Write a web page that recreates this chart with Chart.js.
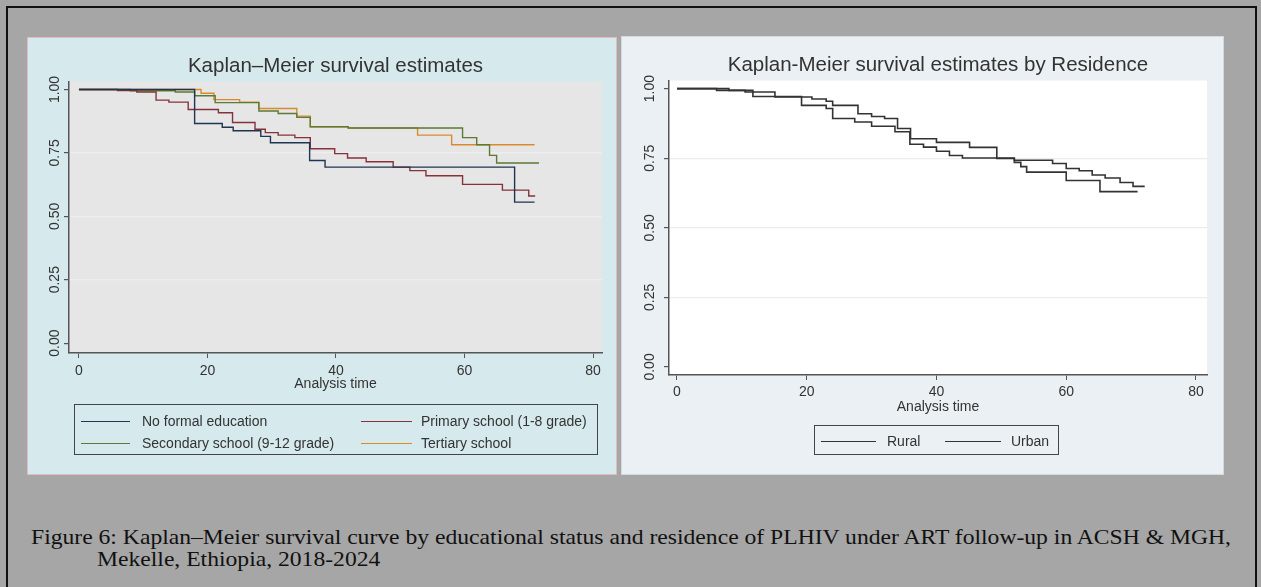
<!DOCTYPE html>
<html lang="en">
<head>
<meta charset="UTF-8">
<title>Kaplan–Meier survival curves</title>
<script src="https://cdn.jsdelivr.net/npm/chart.js@4.4.0/dist/chart.umd.min.js"></script>
<style>
*{box-sizing:border-box;margin:0;padding:0}
body{width:1261px;height:587px;background:#a6a6a6;overflow:hidden;position:relative;font-family:"Liberation Sans",Arial,sans-serif}
#frame{position:absolute;left:6px;top:6px;width:1251px;height:640px;border:2px solid #111}
.panel{position:absolute}
#pL{left:27px;top:37px;width:590px;height:438px;background:#d6e9ec;border:1px solid #e2bcc2}
#pR{left:621px;top:36px;width:603px;height:439px;background:#eaf0f3;border:1px solid #d3d9dc}
.panel canvas{position:absolute;left:0;top:0}
.lg{position:absolute;border:1px solid #444;font-size:14px;color:#333}
.lg .it{position:absolute;white-space:nowrap;line-height:16px}
.lg .ln{position:absolute;height:0;border-top:1.5px solid #333}
#cap{position:absolute;left:31px;top:526px;font-family:"Liberation Serif","Times New Roman",serif;font-size:21px;line-height:22px;color:#111;white-space:nowrap;transform-origin:0 0}
</style>
</head>
<body>
<div id="frame"></div>
<div class="panel" id="pL"><canvas id="cL"></canvas><div class="lg" id="lgL"></div></div>
<div class="panel" id="pR"><canvas id="cR"></canvas><div class="lg" id="lgR"></div></div>
<div id="cap"><span id="cap1">Figure 6: Kaplan–Meier survival curve by educational status and residence of PLHIV under ART follow-up in ACSH &amp; MGH,</span><br><span id="cap2">Mekelle, Ethiopia, 2018-2024</span></div>

<script>
// axis ticks
const xTicks = [0, 20, 40, 60, 80];
const yTicks = [0, 0.25, 0.5, 0.75, 1];

// left: by educational status (time in months, survival prob.)
const eduLabels = ["No formal education", "Primary school (1-8 grade)", "Secondary school (9-12 grade)", "Tertiary school"];
const noFormalT = [0, 18, 22.3, 24, 28.3, 29.8, 35.9, 38.3, 67.8, 70.9];
const noFormalS = [1, 0.866, 0.851, 0.837, 0.815, 0.79, 0.72, 0.694, 0.556, 0.556];
const primaryT = [0, 6, 9, 12, 14, 17, 21.7, 23.9, 27.4, 29, 31, 33.6, 36, 39.8, 41.8, 44.7, 48.9, 51.5, 54, 59.7, 65.9, 70, 71];
const primaryS = [1, 0.996, 0.99, 0.958, 0.95, 0.921, 0.908, 0.87, 0.843, 0.83, 0.82, 0.81, 0.766, 0.747, 0.73, 0.715, 0.694, 0.68, 0.66, 0.626, 0.603, 0.58, 0.58];
const secondaryT = [0, 8, 15, 18, 21.2, 28, 31, 33.9, 36, 41.9, 59.7, 61.9, 63.9, 65, 71.6];
const secondaryS = [1, 0.995, 0.99, 0.975, 0.948, 0.915, 0.905, 0.89, 0.853, 0.848, 0.81, 0.782, 0.74, 0.71, 0.71];
const tertiaryT = [0, 19, 21, 25, 28, 33.9, 36, 41.9, 52.7, 58, 70.9];
const tertiaryS = [1, 0.985, 0.96, 0.95, 0.925, 0.895, 0.853, 0.848, 0.82, 0.782, 0.782];

// right: by residence
const resLabels = ["Rural", "Urban"];
const ruralT = [0, 6.1, 10.5, 15.1, 20.8, 23, 24, 27.9, 30, 32, 34, 36, 40, 45.1, 49.3, 52, 57.9, 60, 62, 64, 66, 68.3, 70.3, 72.1];
const ruralS = [1, 0.994, 0.988, 0.97, 0.963, 0.955, 0.94, 0.91, 0.9, 0.893, 0.857, 0.82, 0.807, 0.789, 0.749, 0.743, 0.731, 0.713, 0.705, 0.69, 0.679, 0.663, 0.649, 0.649];
const urbanT = [0, 8, 11.7, 19.2, 23, 24, 27.4, 30, 33.6, 35.9, 38, 40, 42, 44, 52, 53, 53.9, 60, 65.2, 71];
const urbanS = [1, 0.994, 0.972, 0.94, 0.929, 0.893, 0.88, 0.865, 0.845, 0.8, 0.79, 0.775, 0.76, 0.751, 0.735, 0.72, 0.7, 0.67, 0.63, 0.63];

const eduColors = ["#1f3552", "#85323c", "#5b7a35", "#d98a2c"];
const resColors = ["#333", "#333"];

const FONT = "'Liberation Sans', Arial, sans-serif";
const pts = (t, s) => t.map((v, i) => ({ x: v, y: s[i] }));

const plotBg = {
  id: "plotBg",
  beforeDraw(chart, args, o) {
    const { ctx, chartArea: a } = chart;
    ctx.save();
    ctx.fillStyle = o.color;
    ctx.fillRect(a.left, a.top, a.right - a.left, a.bottom - a.top);
    ctx.restore();
  }
};

// Stata style vertical tick labels
const yLabels = {
  id: "yLabels",
  afterDraw(chart, args, o) {
    const { ctx } = chart;
    const sc = chart.scales.y;
    ctx.save();
    ctx.fillStyle = "#333";
    ctx.font = "14px " + FONT;
    ctx.textAlign = "center";
    ctx.textBaseline = "middle";
    sc.ticks.forEach(t => {
      ctx.save();
      ctx.translate(o.x, sc.getPixelForValue(t.value));
      ctx.rotate(-Math.PI / 2);
      ctx.fillText(t.value.toFixed(2), 0, 0);
      ctx.restore();
    });
    ctx.restore();
  }
};

function makeChart(id, datasets, c) {
  return new Chart(document.getElementById(id), {
    type: "line",
    data: { datasets },
    plugins: [plotBg, yLabels],
    options: {
      responsive: true, maintainAspectRatio: false, animation: false,
      layout: { padding: { left: 0, top: 0, right: c.padR, bottom: c.padB } },
      plugins: {
        legend: { display: false },
        tooltip: { enabled: false },
        title: {
          display: true, text: c.title, fullSize: false, color: "#333",
          font: { size: c.titleSize, weight: "normal", family: FONT },
          padding: { top: c.titleTop, bottom: c.titleBot }
        },
        plotBg: { color: c.plotColor },
        yLabels: { x: c.yLabX }
      },
      scales: {
        x: {
          type: "linear", min: c.xMin, max: c.xMax,
          afterBuildTicks: s => { s.ticks = xTicks.map(v => ({ value: v })); },
          afterFit: s => { s.height = c.xH; },
          ticks: { color: "#333", font: { size: 14, family: FONT }, padding: c.xPad, maxRotation: 0, autoSkip: false },
          grid: { drawOnChartArea: false, tickLength: 5, tickColor: "#555" },
          border: { color: "#555", width: 1.5 },
          title: { display: true, text: "Analysis time", color: "#333", font: { size: 14, family: FONT }, padding: 0 }
        },
        y: {
          type: "linear", min: c.yMin, max: c.yMax,
          afterBuildTicks: s => { s.ticks = yTicks.map(v => ({ value: v })); },
          afterFit: s => { s.width = c.yW; },
          ticks: { display: false },
          grid: {
            color: ctx => (ctx.tick && (ctx.tick.value === 0 || ctx.tick.value === 1)) ? "rgba(0,0,0,0)" : c.gridColor,
            lineWidth: 1.2, tickLength: 5, tickColor: "#555"
          },
          border: { color: "#555", width: 1.5 }
        }
      }
    }
  });
}

makeChart("cL", [
  [noFormalT, noFormalS], [primaryT, primaryS], [secondaryT, secondaryS], [tertiaryT, tertiaryS]
].map((d, i) => ({
  label: eduLabels[i], data: pts(d[0], d[1]), borderColor: eduColors[i],
  borderWidth: 1.4, pointRadius: 0, stepped: true, fill: false
})), {
  title: "Kaplan–Meier survival estimates", titleSize: 20.5, titleTop: 16, titleBot: 3,
  padR: 14, padB: 81, xMin: -1.55, xMax: 81.4, yMin: -0.039, yMax: 1.031,
  xH: 40, xPad: 5, yW: 41, yLabX: 27, plotColor: "#e6e6e6", gridColor: "#eeeeee"
});

makeChart("cR", [
  [ruralT, ruralS], [urbanT, urbanS]
].map((d, i) => ({
  label: resLabels[i], data: pts(d[0], d[1]), borderColor: resColors[i],
  borderWidth: 1.6, pointRadius: 0, stepped: true, fill: false
})), {
  title: "Kaplan-Meier survival estimates by Residence", titleSize: 20.5, titleTop: 16, titleBot: 3,
  padR: 16, padB: 58, xMin: -1.23, xMax: 81.7, yMin: -0.029, yMax: 1.029,
  xH: 41, xPad: 4, yW: 47, yLabX: 28, plotColor: "#ffffff", gridColor: "#ececec"
});

// legends (Stata style boxes)
function legend(id, box, labels, colors, items) {
  const el = document.getElementById(id);
  Object.assign(el.style, { left: box[0] + "px", top: box[1] + "px", width: box[2] + "px", height: box[3] + "px" });
  labels.forEach((lab, i) => {
    const [lx, lw, tx, cy] = items[i];
    const ln = document.createElement("div");
    ln.className = "ln";
    Object.assign(ln.style, { left: lx + "px", width: lw + "px", top: cy + "px", borderTopColor: colors[i] });
    const tt = document.createElement("div");
    tt.className = "it";
    tt.textContent = lab;
    Object.assign(tt.style, { left: tx + "px", top: (cy - 8) + "px" });
    el.appendChild(ln);
    el.appendChild(tt);
  });
}
legend("lgL", [46, 366, 524, 51], eduLabels, eduColors,
  [[6, 49, 67, 16], [286, 51, 346, 16], [6, 49, 67, 38], [286, 51, 346, 38]]);
legend("lgR", [192, 388, 245, 30], resLabels, resColors,
  [[6, 55, 72, 15], [130, 56, 196, 15]]);

// caption: stretch first line to the printed width, indent second line
const cap = document.getElementById("cap");
const sx = 1200 / document.getElementById("cap1").getBoundingClientRect().width;
cap.style.transform = "scaleX(" + sx + ")";
document.getElementById("cap2").style.paddingLeft = (66 / sx) + "px";
</script>
</body>
</html>
